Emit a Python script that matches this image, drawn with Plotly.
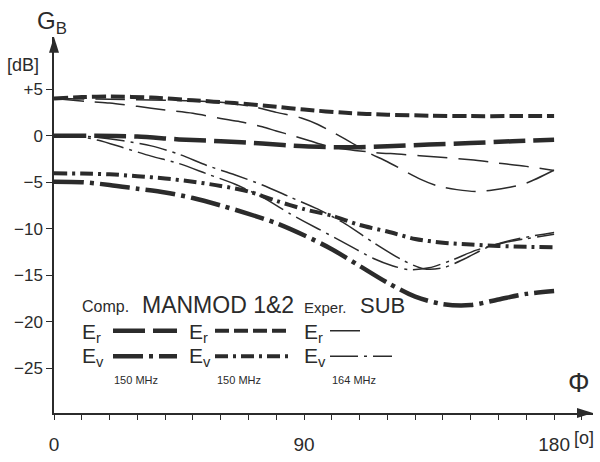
import plotly.graph_objects as go

# ---------------- data ----------------
# Computed (150 MHz)
phi_comp_er = [0, 15, 30, 45, 60, 75, 90, 105, 120, 135, 150, 165, 180]
db_comp_er = [0.0, -0.02, -0.1, -0.4, -0.6, -0.85, -1.15, -1.25, -1.15, -0.95, -0.8, -0.6, -0.45]

phi_comp_ev = [0, 10, 20, 30, 40, 50, 60, 70, 80, 90, 100, 110, 120, 130, 140, 150, 160, 170, 180]
db_comp_ev = [-4.95, -5.0, -5.3, -5.7, -6.1, -6.7, -7.5, -8.4, -9.4, -10.7, -12.2, -14.0, -15.8,
              -17.3, -18.1, -18.2, -17.6, -17.0, -16.7]

# MANMOD 1&2 (150 MHz)
phi_mm_er = [0, 10, 20, 35, 50, 65, 80, 90, 105, 120, 135, 150, 165, 180]
db_mm_er = [4.0, 4.15, 4.2, 4.1, 3.8, 3.5, 3.1, 2.8, 2.45, 2.25, 2.15, 2.1, 2.1, 2.1]

phi_mm_ev = [0, 10, 20, 30, 40, 50, 60, 70, 80, 90, 100, 110, 120, 130, 140, 150, 160, 170, 180]
db_mm_ev = [-4.05, -4.07, -4.15, -4.35, -4.6, -4.95, -5.4, -6.0, -7.0, -7.9, -8.6, -9.6, -10.3,
            -11.1, -11.5, -11.7, -11.85, -11.95, -12.0]

# Experiment SUB (164 MHz), two measured curves each
phi_ex_er_a = [0, 20, 40, 60, 72, 80, 89, 95, 105, 113, 120, 132, 138, 145, 152, 158, 164, 170, 180]
db_ex_er_a = [4.0, 3.9, 3.8, 3.6, 3.1, 2.5, 1.9, 1.2, -0.4, -1.8, -2.8, -4.7, -5.4, -5.8, -6.0,
              -5.85, -5.55, -5.1, -3.7]
phi_ex_er_b = [0, 13, 20, 30, 40, 50, 60, 67, 75, 80, 86, 92, 98, 105, 115, 125, 138, 150, 160, 170, 180]
db_ex_er_b = [4.0, 3.65, 3.5, 3.15, 2.75, 2.4, 1.85, 1.5, 0.95, 0.5, 0.0, -0.55, -1.1, -1.45, -1.8,
              -2.0, -2.3, -2.6, -2.95, -3.3, -3.75]

phi_ex_ev_a = [0, 8, 16, 25, 35, 45, 55, 65, 75, 85, 95, 105, 115, 125, 133, 140, 148, 156, 165, 180]
db_ex_ev_a = [0.0, -0.02, -0.2, -0.55, -1.1, -2.0, -3.2, -4.2, -5.3, -6.6, -7.9, -9.5, -11.5,
              -13.3, -14.3, -14.2, -13.2, -12.0, -11.2, -10.4]
phi_ex_ev_b = [0, 8, 16, 25, 35, 45, 55, 65, 75, 85, 95, 105, 115, 122, 128, 135, 143, 152, 162, 180]
db_ex_ev_b = [0.0, -0.05, -0.5, -1.3, -2.2, -3.0, -4.1, -5.2, -6.6, -8.4, -10.0, -11.6, -13.2,
              -14.0, -14.4, -14.2, -13.4, -12.3, -11.5, -10.6]

y_tick_vals = [5, 0, -5, -10, -15, -20, -25]
y_tick_text = ["+5", "0", "\u22125", "\u221210", "\u221215", "\u221220", "\u221225"]
x_tick_vals = [0, 90, 180]
x_tick_text = ["0", "90", "180"]
x_minor_step = 10

# ---------------- styles ----------------
INK = "#2b2b2b"
FONT = "Liberation Sans"
st = {
    "comp_er": dict(width=4.5, dash="32px,8px"),
    "comp_ev": dict(width=4.5, dash="30px,6px,4px,6px"),
    "mm_er": dict(width=4.0, dash="14px,5px"),
    "mm_ev": dict(width=4.0, dash="13px,5px,3px,5px"),
    "ex_er": dict(width=1.5, dash="30px,11px"),
    "ex_ev": dict(width=1.5, dash="28px,6px,3px,6px"),
}

fig = go.Figure()


def add(x, y, key):
    fig.add_trace(go.Scatter(x=x, y=y, mode="lines", showlegend=False, hoverinfo="skip",
                             line=dict(color=INK, shape="spline", smoothing=0.8, **st[key])))


add(phi_comp_er, db_comp_er, "comp_er")
add(phi_mm_er, db_mm_er, "mm_er")
add(phi_ex_er_a, db_ex_er_a, "ex_er")
add(phi_ex_er_b, db_ex_er_b, "ex_er")
add(phi_comp_ev, db_comp_ev, "comp_ev")
add(phi_mm_ev, db_mm_ev, "mm_ev")
add(phi_ex_ev_a, db_ex_ev_a, "ex_ev")
add(phi_ex_ev_b, db_ex_ev_b, "ex_ev")

# ---------------- layout geometry ----------------
W, H = 600, 462
L, R, T, B = 54, 7, 37, 41
PW, PH = W - L - R, H - T - B


def xp(px):
    return (px - L) / PW


def yp(py):
    return (H - B - py) / PH


ann = []
shapes = []


def text(px, py, s, size, anchor="left"):
    ann.append(dict(xref="paper", yref="paper", x=xp(px), y=yp(py), text=s, showarrow=False,
                    xanchor=anchor, yanchor="middle", font=dict(family=FONT, size=size, color=INK)))


# axis titles
text(35, 22, "G<sub>B</sub>", 24)
text(5, 66, "[dB]", 18)
text(566, 390, "\u03a6", 27)
text(572, 447, "[o]", 18)

# legend block
text(80, 312, "Comp.", 16)
text(140, 311, "MANMOD 1&2", 23)
text(302, 313, "Exper.", 15)
text(358, 311, "SUB", 22)
for x0 in (80, 187, 302):
    text(x0, 339, "E<sub>r</sub>", 21)
    text(x0, 364, "E<sub>v</sub>", 21)
text(112, 387, "150 MHz", 11)
text(215, 387, "150 MHz", 11)
text(330, 387, "164 MHz", 11)


def sample(x0, x1, py, key):
    s = st[key]
    shapes.append(dict(type="line", xref="paper", yref="paper", x0=xp(x0), x1=xp(x1),
                       y0=yp(py), y1=yp(py), line=dict(color=INK, width=s["width"], dash=s["dash"])))


sample(113, 177, 337, "comp_er")
sample(215, 289, 337, "mm_er")
sample(330, 370, 337, "ex_er")
sample(113, 177, 363, "comp_ev")
sample(215, 289, 363, "mm_ev")
sample(330, 392, 363, "ex_ev")

# axis arrowheads (filled triangles)
tip_x, base_x, ax_y = W - R, W - R - 16, H - B
shapes.append(dict(type="path", xref="paper", yref="paper", fillcolor=INK, line=dict(width=0),
                   path=f"M {xp(tip_x)} {yp(ax_y)} L {xp(base_x)} {yp(ax_y - 5)} "
                        f"L {xp(base_x)} {yp(ax_y + 5)} Z"))
tip_y, base_y, ax_x = T, T + 16, L
shapes.append(dict(type="path", xref="paper", yref="paper", fillcolor=INK, line=dict(width=0),
                   path=f"M {xp(ax_x)} {yp(tip_y)} L {xp(ax_x - 5)} {yp(base_y)} "
                        f"L {xp(ax_x + 5)} {yp(base_y)} Z"))

fig.update_layout(
    width=W, height=H, margin=dict(l=L, r=R, t=T, b=B, pad=0),
    paper_bgcolor="white", plot_bgcolor="white",
    annotations=ann, shapes=shapes, showlegend=False,
    xaxis=dict(range=[0, 194], showgrid=False, zeroline=False, showline=True, linewidth=1.5,
               linecolor=INK, ticks="outside", ticklen=5, tickwidth=1.3, tickcolor=INK,
               tickvals=x_tick_vals, ticktext=x_tick_text, ticklabelstandoff=8,
               minor=dict(ticks="outside", ticklen=5, tickwidth=1.3, tickcolor=INK,
                          dtick=x_minor_step, tick0=0, showgrid=False),
               tickfont=dict(family=FONT, size=19, color=INK)),
    yaxis=dict(range=[-29.8, 10.6], showgrid=False, zeroline=False, showline=True, linewidth=1.5,
               linecolor=INK, ticks="outside", ticklen=6, tickwidth=1.3, tickcolor=INK,
               tickvals=y_tick_vals, ticktext=y_tick_text,
               tickfont=dict(family=FONT, size=17, color=INK)),
)

fig.write_html("out.html", config={"displayModeBar": False},
               post_script="document.body.style.margin='0px';document.body.style.overflow='hidden';")
